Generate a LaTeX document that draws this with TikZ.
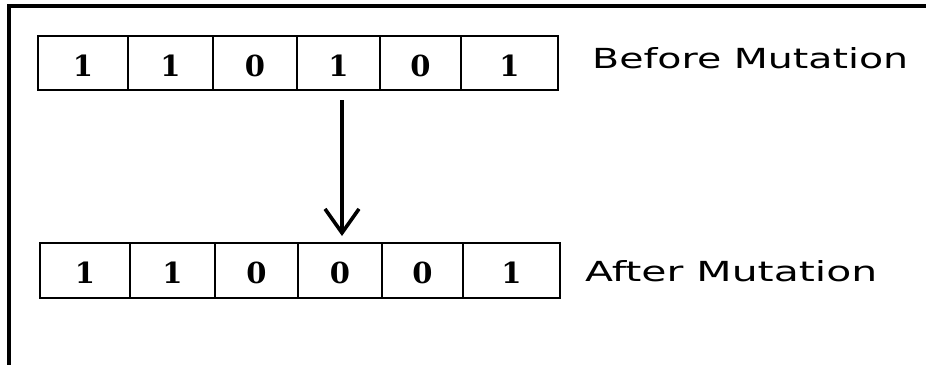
\documentclass[tikz,border=0pt]{standalone}
\usepackage{fontspec}
\setsansfont{DejaVu Sans}
\setmainfont{DejaVu Serif}
\usetikzlibrary{arrows.meta}
\begin{document}
\begin{tikzpicture}[x=1pt,y=-1pt,
  cell/.style={draw=black,line width=2.2pt},
  digit/.style={font=\fontsize{29}{29}\selectfont\bfseries,inner sep=0pt},
  frame/.style={line width=3.2pt},
  label/.style={anchor=west,inner sep=0pt},
  mutarrow/.style={line width=3.6pt,-{Straight Barb[length=24pt,width=34pt,line width=3.6pt]}}]
\useasboundingbox (0,0) rectangle (926,365);
\draw[frame] (926,6) -- (9,6) -- (9,365);
% top row
\foreach \i/\a/\b/\v in {1/38/128/1,2/128/213/1,3/213/297/0,4/297/380/1,5/380/461/0,6/461/558/1}{
  \draw[cell] (\a,36) rectangle (\b,90);
  \node[digit] (t\i) at ({(\a+\b)/2},66) {\v};
}
% bottom row
\foreach \i/\a/\b/\v in {1/40/130/1,2/130/215/1,3/215/298/0,4/298/382/0,5/382/463/0,6/463/560/1}{
  \draw[cell] (\a,243) rectangle (\b,298);
  \node[digit] (b\i) at ({(\a+\b)/2},273) {\v};
}
\node[label] (before) at (592,58) {\resizebox{316pt}{21pt}{\sffamily Before Mutation}};
\node[label] (after) at (585,271.5) {\resizebox{292pt}{21pt}{\sffamily After Mutation}};
\coordinate (from) at (342,100);
\coordinate (to) at (342,236);
\draw[mutarrow] (from) -- (to);
\end{tikzpicture}
\end{document}
